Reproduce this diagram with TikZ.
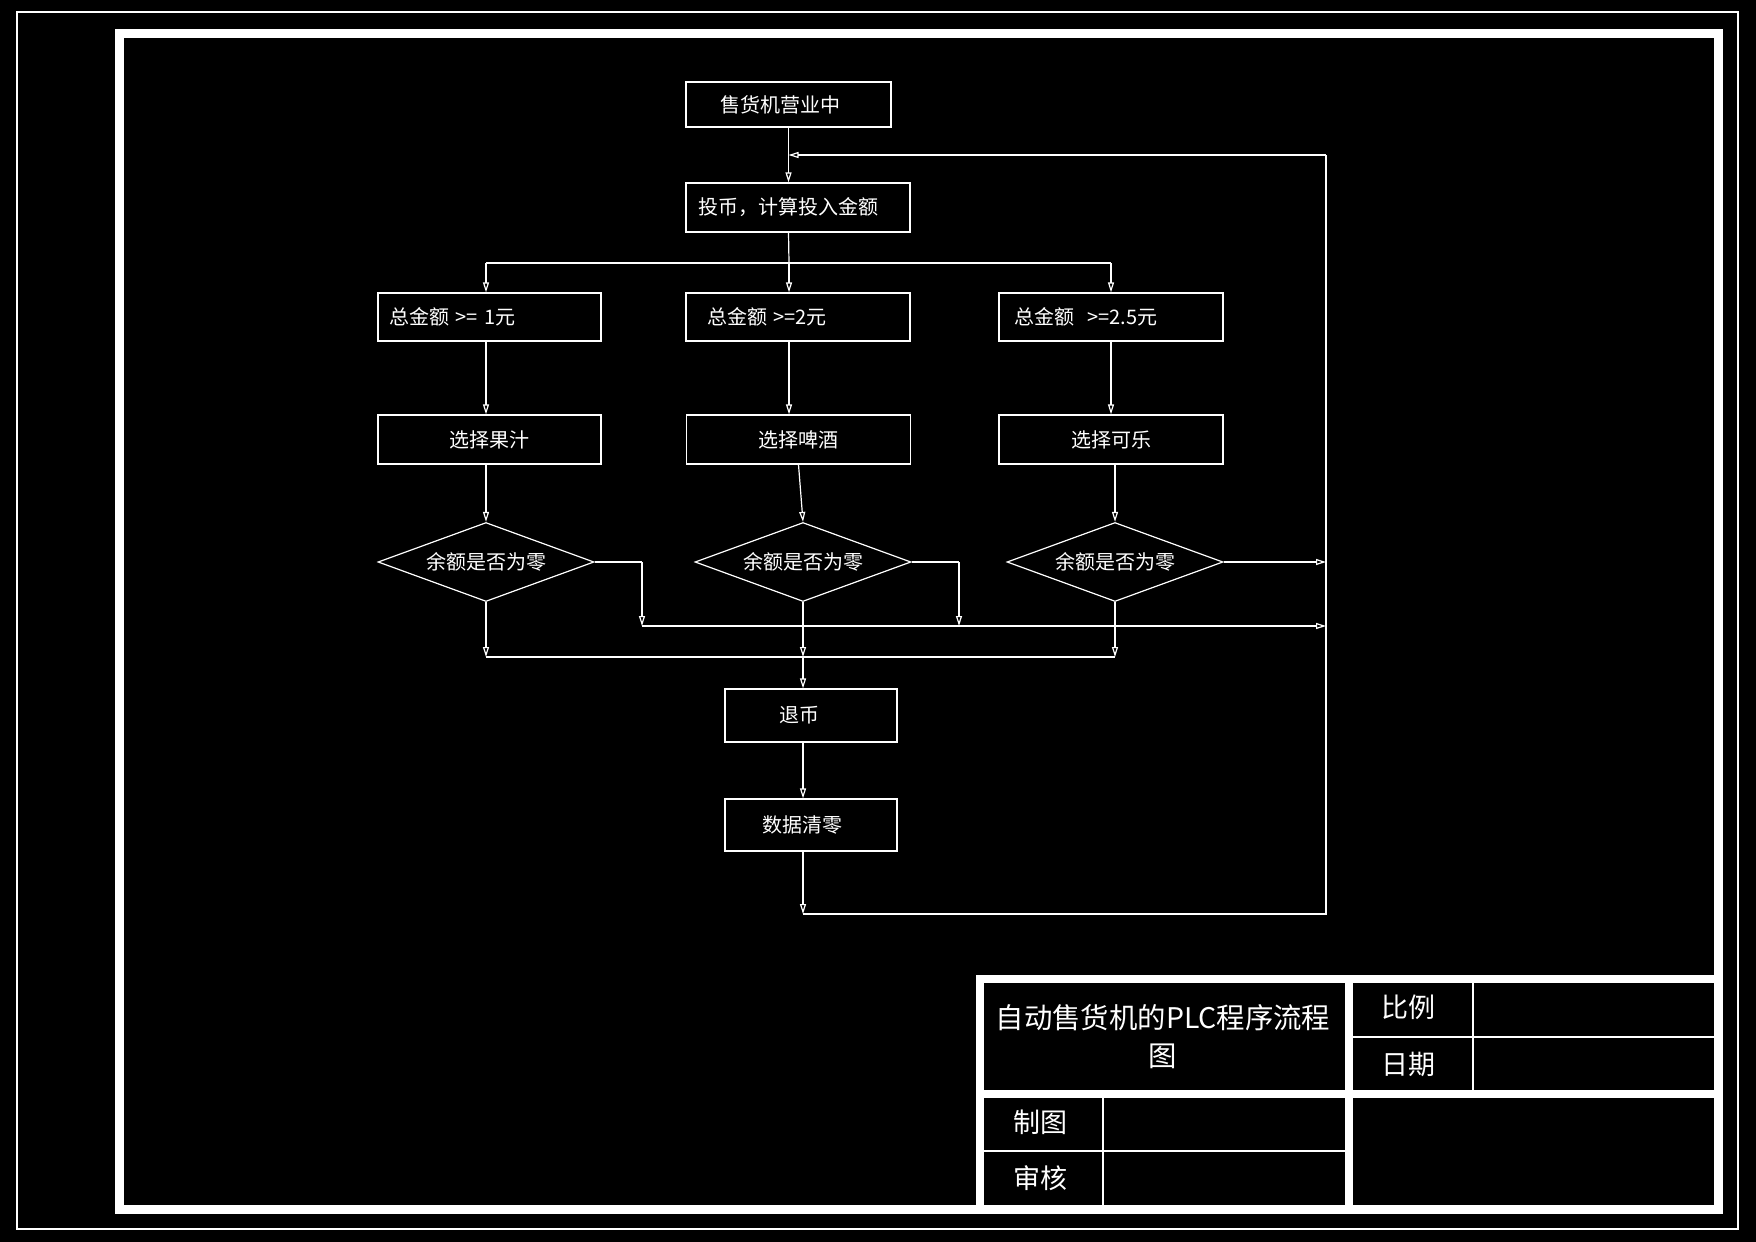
\documentclass[tikz,border=0pt]{standalone}
\usepackage{fontspec}
\setmainfont{Noto Sans CJK SC}
\usetikzlibrary{arrows.meta,shapes.geometric}
\begin{document}
\begin{tikzpicture}[x=0.5pt,y=-0.5pt,
  ln/.style={draw=white, line width=0.6pt},
  arr/.style={ln, -{Triangle[open,length=5pt,width=3pt]}},
  fbox/.style={rectangle, draw=white, line width=0.6pt, text=white, inner sep=0pt,
    font=\fontsize{10pt}{12pt}\selectfont},
  dia/.style={diamond, draw=white, line width=0.6pt, text=white, inner sep=0pt,
    minimum width=108pt, minimum height=39.5pt, shape aspect=2.7,
    font=\fontsize{10pt}{12pt}\selectfont},
  tbtext/.style={text=white, inner sep=0pt, font=\fontsize{13.5pt}{16pt}\selectfont},
  thinf/.style={draw=white, line width=0.6pt},
  thickf/.style={draw=white, line width=4.5pt},
  tbl/.style={draw=white, line width=4pt},
]
% background and bounding box
\fill[black] (0,0) rectangle (1756,1242);
\useasboundingbox (0,0) rectangle (1756,1242);

% frames
\draw[thinf] (17,12) rectangle (1738,1229);
\draw[thickf] (119,33) rectangle (1718,1209);

% title block
\draw[tbl] (980,1209) -- (980,979) -- (1718,979);
\draw[tbl] (1349,979) -- (1349,1209);
\draw[tbl] (980,1094) -- (1718,1094);
\draw[thinf] (1349,1037) -- (1718,1037);
\draw[thinf] (1473,979) -- (1473,1094);
\draw[thinf] (1103,1094) -- (1103,1209);
\draw[thinf] (980,1151) -- (1349,1151);

\node[text=white, inner sep=0pt, align=center,
  font=\fontsize{14.2pt}{19pt}\selectfont] (tt) at (1163,1037) {自动售货机的PLC程序流程\\图};
\node[tbtext] (t1) at (1408,1007) {比例};
\node[tbtext] (t2) at (1408,1064) {日期};
\node[tbtext] (t3) at (1040,1122) {制图};
\node[tbtext] (t4) at (1040,1178) {审核};

% flowchart nodes
\node[fbox, minimum width=102.5pt, minimum height=22.5pt, inner xsep=17pt, text width=68.5pt, align=left] (b1) at (788.5,104.5) {售货机营业中};
\node[fbox, minimum width=112pt, minimum height=24.5pt, inner xsep=6pt, text width=100pt, align=left] (b2) at (798,207.5) {投币，计算投入金额};

\node[fbox, minimum width=111.5pt, minimum height=24pt, inner xsep=5.5pt, text width=100.5pt, align=left] (c1) at (489.5,317) {总金额 >= 1元};
\node[fbox, minimum width=112pt, minimum height=24pt, inner xsep=10.5pt, text width=91pt, align=left] (c2) at (798,317) {总金额 >=2元};
\node[fbox, minimum width=112pt, minimum height=24pt, inner xsep=7.5pt, text width=97pt, align=left] (c3) at (1111,317) {总金额\ \ >=2.5元};

\node[fbox, minimum width=111.5pt, minimum height=24.5pt] (s1) at (489.5,439.5) {选择果汁};
\node[fbox, minimum width=112pt, minimum height=24.5pt] (s2) at (798.5,439.5) {选择啤酒};
\node[fbox, minimum width=112pt, minimum height=24.5pt] (s3) at (1111,439.5) {选择可乐};

\node[dia] (d1) at (486,562) {余额是否为零};
\node[dia] (d2) at (803,562) {余额是否为零};
\node[dia] (d3) at (1115,562) {余额是否为零};

\node[fbox, minimum width=86pt, minimum height=26.5pt, inner xsep=27pt, text width=32pt, align=left] (e1) at (811,715.5) {退币};
\node[fbox, minimum width=86pt, minimum height=26pt, inner xsep=18.5pt, text width=49pt, align=left] (e2) at (811,825) {数据清零};

% coordinates
\coordinate (brA) at (486,263);
\coordinate (brB) at (789,263);
\coordinate (brC) at (1111,263);
\coordinate (r1) at (642,562);
\coordinate (r1b) at (642,626);
\coordinate (r2) at (959,562);
\coordinate (r2b) at (959,626);
\coordinate (rx) at (1326,626);
\coordinate (r3) at (1326,562);
\coordinate (m1) at (486,657);
\coordinate (m2) at (803,657);
\coordinate (m3) at (1115,657);
\coordinate (lp1) at (803,914);
\coordinate (lp2) at (1326,914);
\coordinate (lp3) at (1326,155);

% connectors
\draw[arr] (b1.south) -- (b1.south |- b2.north);
\draw[ln] (b1.south |- b2.south) -- (brB);
\draw[ln] (brA) -- (brC);
\draw[arr] (brA) -- (brA |- c1.north);
\draw[arr] (brB) -- (brB |- c2.north);
\draw[arr] (brC) -- (brC |- c3.north);

\draw[arr] (brA |- c1.south) -- (brA |- s1.north);
\draw[arr] (brB |- c2.south) -- (brB |- s2.north);
\draw[arr] (brC |- c3.south) -- (brC |- s3.north);

\draw[arr] (d1.north |- s1.south) -- (d1.north);
\draw[arr] (s2.south) -- (d2.north);
\draw[arr] (d3.north |- s3.south) -- (d3.north);

\draw[ln] (d1.east) -- (r1);
\draw[arr] (r1) -- (r1b);
\draw[ln] (d2.east) -- (r2);
\draw[arr] (r2) -- (r2b);
\draw[arr] (d3.east) -- (r3);
\draw[arr] (r1b) -- (rx);

\draw[arr] (d1.south) -- (m1);
\draw[arr] (d2.south) -- (m2);
\draw[arr] (d3.south) -- (m3);
\draw[ln] (m1) -- (m3);

\draw[arr] (m2) -- (m2 |- e1.north);
\draw[arr] (m2 |- e1.south) -- (m2 |- e2.north);
\draw[arr] (lp1 |- e2.south) -- (lp1);
\draw[ln] (lp1) -- (lp2) -- (lp3);
\draw[arr] (lp3) -- (b1.south |- lp3);
\end{tikzpicture}
\end{document}
